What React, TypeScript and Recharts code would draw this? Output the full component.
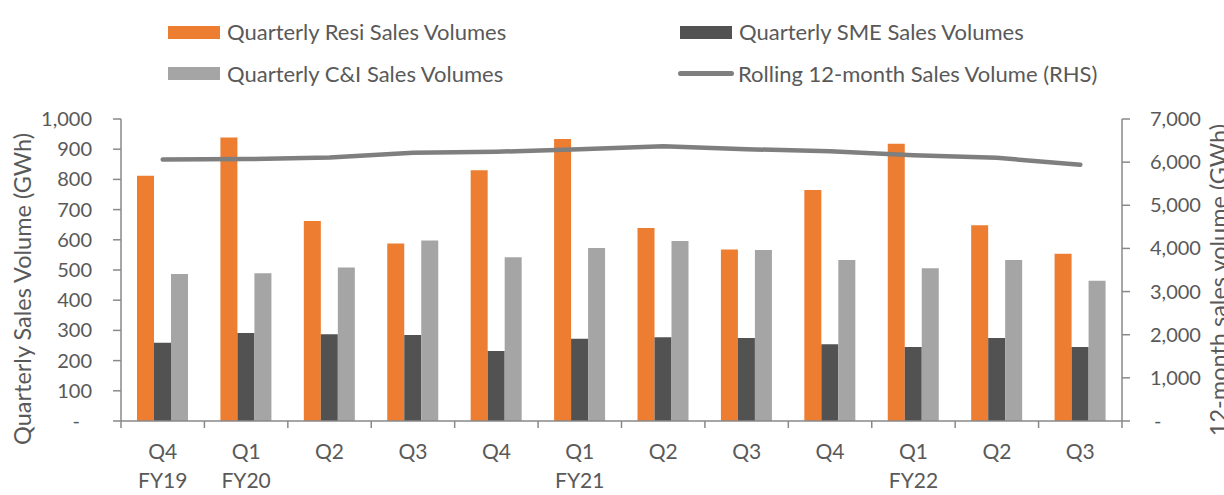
import React from 'react';
import { ComposedChart, Bar, Line, XAxis, YAxis, Legend } from 'recharts';

const quarters = ['Q4', 'Q1', 'Q2', 'Q3', 'Q4', 'Q1', 'Q2', 'Q3', 'Q4', 'Q1', 'Q2', 'Q3'];
const fiscalYears = ['FY19', 'FY20', '', '', '', 'FY21', '', '', '', 'FY22', '', ''];
const resiVolumes = [812, 939, 662, 588, 830, 934, 639, 568, 765, 918, 648, 554];
const smeVolumes = [259, 291, 287, 285, 232, 272, 277, 275, 254, 245, 275, 245];
const ciVolumes = [487, 489, 508, 598, 542, 573, 596, 566, 533, 506, 533, 464];
const rolling12m = [6060, 6070, 6110, 6220, 6240, 6300, 6370, 6300, 6250, 6160, 6100, 5940];
const leftTicks = [0, 100, 200, 300, 400, 500, 600, 700, 800, 900, 1000];
const rightTicks = [0, 1000, 2000, 3000, 4000, 5000, 6000, 7000];

const data = quarters.map((q, i) => ({
  key: String(i),
  resi: resiVolumes[i],
  sme: smeVolumes[i],
  ci: ciVolumes[i],
  rolling: rolling12m[i],
}));

const ORANGE = '#ED7D31';
const DARK = '#525252';
const LIGHT = '#A5A5A5';
const LINE = '#7F7F7F';
const TEXT = '#595959';
const AXIS = '#898989';
const FONT = 'Lato, "Open Sans", sans-serif';

const fmt = (v: number) => (v === 0 ? '-' : v.toLocaleString('en-US'));

const LeftTick = (props: any) => {
  const { x, y, payload } = props;
  const v = payload.value;
  return (
    <text x={v === 0 ? x - 12 : x} y={y} dy={7} textAnchor="end" fill={TEXT} fontSize={20} fontFamily={FONT}>
      {fmt(v)}
    </text>
  );
};

const RightTick = (props: any) => {
  const { x, y, payload } = props;
  const v = payload.value;
  return (
    <text x={v === 0 ? x + 4 : x} y={y} dy={7} textAnchor="start" fill={TEXT} fontSize={20} fontFamily={FONT}>
      {fmt(v)}
    </text>
  );
};

const PLOT_LEFT = 121;
const PLOT_RIGHT = 1122;
const BAND = (PLOT_RIGHT - PLOT_LEFT) / quarters.length;

const XTick = (props: any) => {
  const { x, y, index } = props;
  const fy = fiscalYears[index];
  return (
    <g>
      <line x1={x - BAND / 2} y1={y} x2={x - BAND / 2} y2={y + 7} stroke={AXIS} strokeWidth={1.5} />
      {index === quarters.length - 1 && (
        <line x1={x + BAND / 2} y1={y} x2={x + BAND / 2} y2={y + 7} stroke={AXIS} strokeWidth={1.5} />
      )}
      <text x={x} y={y + 38} textAnchor="middle" fill={TEXT} fontSize={21} fontFamily={FONT}>
        {quarters[index]}
      </text>
      {fy && (
        <text x={x} y={y + 67} textAnchor="middle" fill={TEXT} fontSize={21} fontFamily={FONT}>
          {fy}
        </text>
      )}
    </g>
  );
};

const legendItems = [
  { label: 'Quarterly Resi Sales Volumes', color: ORANGE, type: 'rect', left: 168, top: 26, textTop: 32 },
  { label: 'Quarterly SME Sales Volumes', color: DARK, type: 'rect', left: 680, top: 26, textTop: 32 },
  { label: 'Quarterly C&I Sales Volumes', color: LIGHT, type: 'rect', left: 168, top: 67, textTop: 74 },
  { label: 'Rolling 12-month Sales Volume (RHS)', color: LINE, type: 'line', left: 678, top: 71, textTop: 74 },
];

const LegendContent = () => (
  <div style={{ position: 'relative', width: 1224, height: 100 }}>
    {legendItems.map((it) => (
      <React.Fragment key={it.label}>
        {it.type === 'rect' ? (
          <div style={{ position: 'absolute', left: it.left, top: it.top, width: 52, height: 13, background: it.color }} />
        ) : (
          <div style={{ position: 'absolute', left: it.left, top: it.top, width: 56, height: 5, borderRadius: 3, background: it.color }} />
        )}
        <div
          style={{
            position: 'absolute',
            left: it.type === 'rect' ? it.left + 59 : it.left + 60,
            top: it.textTop,
            transform: 'translateY(-50%)',
            fontFamily: FONT,
            fontSize: 22,
            color: TEXT,
            whiteSpace: 'nowrap',
            lineHeight: '26px',
          }}
        >
          {it.label}
        </div>
      </React.Fragment>
    ))}
  </div>
);

export default function App() {
  return (
    <div style={{ position: 'absolute', left: 0, top: 0, width: 1224, height: 495, background: '#fff' }}>
      <ComposedChart
        width={1224}
        height={495}
        data={data}
        margin={{ top: 119, right: 0, bottom: 0, left: 0 }}
        barCategoryGap={16}
        barGap={0}
      >
        <Legend
          layout="vertical"
          verticalAlign="middle"
          align="center"
          content={<LegendContent />}
          wrapperStyle={{ position: 'absolute', top: 0, left: 0, width: 1224, height: 100 }}
        />
        <XAxis
          dataKey="key"
          xAxisId={0}
          height={74}
          axisLine={{ stroke: AXIS, strokeWidth: 1.5 }}
          tickLine={false}
          tickSize={0}
          tickMargin={0}
          interval={0}
          tick={<XTick />}
        />
        <YAxis
          yAxisId="left"
          orientation="left"
          width={121}
          domain={[0, 1000]}
          ticks={leftTicks}
          interval={0}
          axisLine={{ stroke: AXIS, strokeWidth: 1.5 }}
          tickLine={{ stroke: AXIS, strokeWidth: 1.5 }}
          tickSize={8}
          tickMargin={21}
          tick={<LeftTick />}
        />
        <YAxis
          yAxisId="right"
          orientation="right"
          width={102}
          domain={[0, 7000]}
          ticks={rightTicks}
          interval={0}
          axisLine={{ stroke: AXIS, strokeWidth: 1.5 }}
          tickLine={{ stroke: AXIS, strokeWidth: 1.5 }}
          tickSize={8}
          tickMargin={20}
          tick={<RightTick />}
        />
        <Bar yAxisId="left" dataKey="resi" fill={ORANGE} isAnimationActive={false} />
        <Bar yAxisId="left" dataKey="sme" fill={DARK} isAnimationActive={false} />
        <Bar yAxisId="left" dataKey="ci" fill={LIGHT} isAnimationActive={false} />
        <Line
          yAxisId="right"
          dataKey="rolling"
          type="linear"
          stroke={LINE}
          strokeWidth={4.5}
          strokeLinecap="round"
          strokeLinejoin="round"
          dot={false}
          activeDot={false}
          isAnimationActive={false}
        />
        <text
          x={31}
          y={289}
          transform="rotate(-90 31 289)"
          textAnchor="middle"
          fill={TEXT}
          fontSize={23.5}
          fontFamily={FONT}
        >
          Quarterly Sales Volume (GWh)
        </text>
        <text
          x={1227}
          y={124}
          transform="rotate(-90 1227 124)"
          textAnchor="end"
          fill={TEXT}
          fontSize={23.5}
          fontFamily={FONT}
        >
          12-month sales volume (GWh)
        </text>
      </ComposedChart>
    </div>
  );
}
